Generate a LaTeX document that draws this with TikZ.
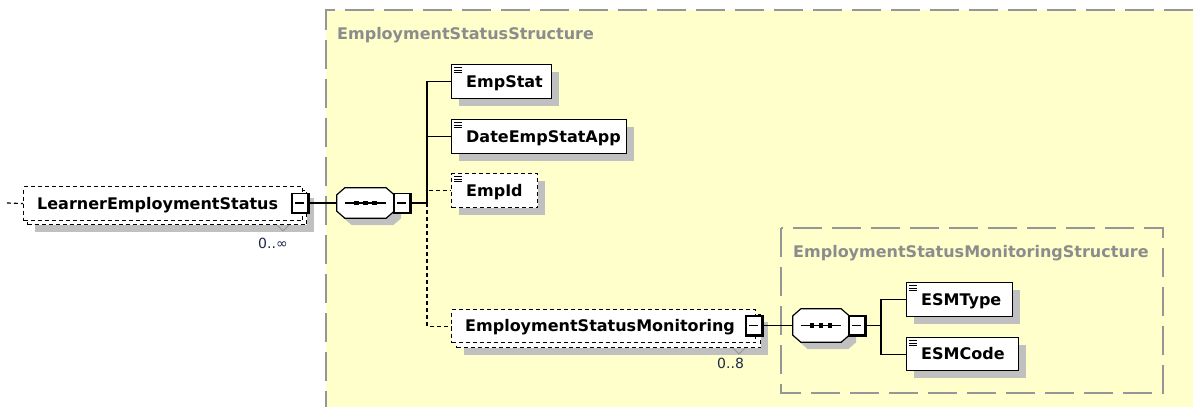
\documentclass[tikz,border=0pt]{standalone}
\usepackage{fontspec}
\setmainfont{DejaVu Sans}
\usetikzlibrary{shadows}
\definecolor{bgyellow}{RGB}{255,255,204}
\definecolor{framegray}{RGB}{150,150,150}
\definecolor{shadowgray}{RGB}{192,192,192}
\definecolor{titlegray}{RGB}{140,140,140}
\definecolor{occ}{RGB}{30,40,70}
% octagon (sequence compositor) outline around a named node: name, dx, dy, path options
\newcommand\octo[4]{\path[#4]
  ([xshift=#2+8pt,yshift=#3]#1.north west) -- ([xshift=#2-8pt,yshift=#3]#1.north east) --
  ([xshift=#2,yshift=#3-7pt]#1.north east) -- ([xshift=#2,yshift=#3+7pt]#1.south east) --
  ([xshift=#2-8pt,yshift=#3]#1.south east) -- ([xshift=#2+8pt,yshift=#3]#1.south west) --
  ([xshift=#2,yshift=#3+7pt]#1.south west) -- ([xshift=#2,yshift=#3-7pt]#1.north west) -- cycle;
  \draw[black, line width=1.2pt] ([xshift=8pt]#1.west) -- ([xshift=-8pt]#1.east);}
\newcommand\seqdots[1]{\foreach \d in {-9,0,9}{%
  \fill[black] ([xshift=\d*1pt-2.3pt,yshift=-2.3pt]#1.center) rectangle ([xshift=\d*1pt+2.3pt,yshift=2.3pt]#1.center);}}
\begin{document}
\begin{tikzpicture}[x=1pt,y=-1pt,
  conn/.style={draw=black, line width=1.2pt},
  optconn/.style={conn, dash pattern=on 4pt off 3pt},
  frame/.style={draw=framegray, line width=2pt, dash pattern=on 29pt off 10pt},
  shad/.style={drop shadow={shadow xshift=7pt, shadow yshift=-7pt, fill=shadowgray, opacity=1}},
  box/.style={rectangle, draw=black, line width=1.2pt, fill=white, inner sep=0pt, anchor=north west},
  optbox/.style={box, dash pattern=on 4pt off 3pt},
  icon/.style={path picture={
      \foreach \k [evaluate=\k as \yy using 3+2.3*\k] in {0,1,2}{
        \draw[black, line width=0.7pt, solid] ([xshift=2.5pt,yshift=-\yy*1pt]path picture bounding box.north west) -- ++(8pt,0pt);}}},
  btn/.style={rectangle, draw=black, line width=1.2pt, fill=white, inner sep=0pt,
      minimum width=16pt, minimum height=19pt,
      path picture={\draw[black, line width=1.2pt, solid] ([xshift=3pt]path picture bounding box.west) -- ([xshift=-4pt]path picture bounding box.east);}},
  compbox/.style={rectangle, draw=none, inner sep=0pt},
  lbl/.style={font=\fontsize{16}{18}\selectfont\bfseries, text=black, inner sep=0pt, anchor=base west},
  ttl/.style={lbl, text=titlegray},
  occl/.style={font=\fontsize{14}{16}\selectfont, text=occ, inner sep=0pt, anchor=base west},
  tick/.style={draw=framegray, line width=0.8pt}
]
\useasboundingbox (0,0) rectangle (1193,407);

% structure areas
\fill[bgyellow] (326,10) rectangle (1193,407);
\draw[frame] (1193,10) -- (326,10) -- (326,407);
\draw[frame] (781,228) rectangle (1163,393);
\node[ttl] (t1) at (337,39) {EmploymentStatusStructure};
\node[ttl] (t2) at (793,257) {EmploymentStatusMonitoringStructure};

% LearnerEmploymentStatus
\coordinate (in) at (7,203);
\node[optbox, shad, minimum width=279pt, minimum height=34pt] (learnerback) at (27,190) {};
\node[optbox, minimum width=279pt, minimum height=34pt] (learner) at (23,186) {};
\node[lbl] (learnertext) at (37,209) {LearnerEmploymentStatus};
\node[btn] (lbtn) at (300,203) {};
\node[occl] (occ1) at (258,248) {0..∞};
\draw[tick] (277,225) -- (283,231) -- (289,225);

% sequence 1
\node[compbox, minimum width=57pt, minimum height=30pt] (seq1) at (365.5,203) {};
\octo{seq1}{7pt}{-7pt}{fill=shadowgray}
\octo{seq1}{0pt}{0pt}{draw=black, line width=1.2pt, fill=white}
\seqdots{seq1}
\node[btn] (b1) at (402,203) {};
\coordinate (bus1) at (427,203);

% children
\node[box, shad, icon, minimum width=100pt, minimum height=34pt] (empstat) at (451,64) {};
\node[lbl] at (466,87) {EmpStat};
\node[box, shad, icon, minimum width=175pt, minimum height=34pt] (date) at (451,119) {};
\node[lbl] at (466,142) {DateEmpStatApp};
\node[optbox, shad, icon, minimum width=86pt, minimum height=34pt] (empid) at (451,173) {};
\node[lbl] at (466,196) {EmpId};

% EmploymentStatusMonitoring
\node[optbox, shad, minimum width=304pt, minimum height=33pt] (esmback) at (456,314) {};
\node[optbox, minimum width=304pt, minimum height=33pt] (esm) at (451,309) {};
\node[lbl] at (465,331) {EmploymentStatusMonitoring};
\node[btn] (esmbtn) at (754,325.5) {};
\node[occl] (occ2) at (717,368) {0..8};
\draw[tick] (733,348) -- (739,354) -- (745,348);

% sequence 2
\node[compbox, minimum width=56pt, minimum height=33pt] (seq2) at (821,325.5) {};
\octo{seq2}{7pt}{-7pt}{fill=shadowgray}
\octo{seq2}{0pt}{0pt}{draw=black, line width=1.2pt, fill=white}
\seqdots{seq2}
\node[btn] (b2) at (857,325.5) {};
\coordinate (bus2) at (881,325.5);

\node[box, shad, icon, minimum width=106pt, minimum height=34pt] (esmtype) at (906,282) {};
\node[lbl] at (921,305) {ESMType};
\node[box, shad, icon, minimum width=112pt, minimum height=33pt] (esmcode) at (906,337) {};
\node[lbl] at (921,359) {ESMCode};

% connectors
\draw[optconn] (in) -- (learner.west);
\draw[conn] (lbtn.east) -- (seq1.west);
\draw[conn] (b1.east) -- (bus1);
\draw[conn] (bus1) |- (empstat.west);
\draw[conn] (bus1) |- (date.west);
\draw[optconn] (bus1) |- (empid.west);
\draw[optconn] (bus1) |- (esm.west);
\draw[conn] (esmbtn.east) -- (seq2.west);
\draw[conn] (b2.east) -- (bus2);
\draw[conn] (bus2) |- (esmtype.west);
\draw[conn] (bus2) |- (esmcode.west);

% button edges
\foreach \b in {lbtn,b1,esmbtn,b2}{
  \draw[black, line width=2.4pt] (\b.north east) -- (\b.south east) -- (\b.south west);}
\end{tikzpicture}
\end{document}
